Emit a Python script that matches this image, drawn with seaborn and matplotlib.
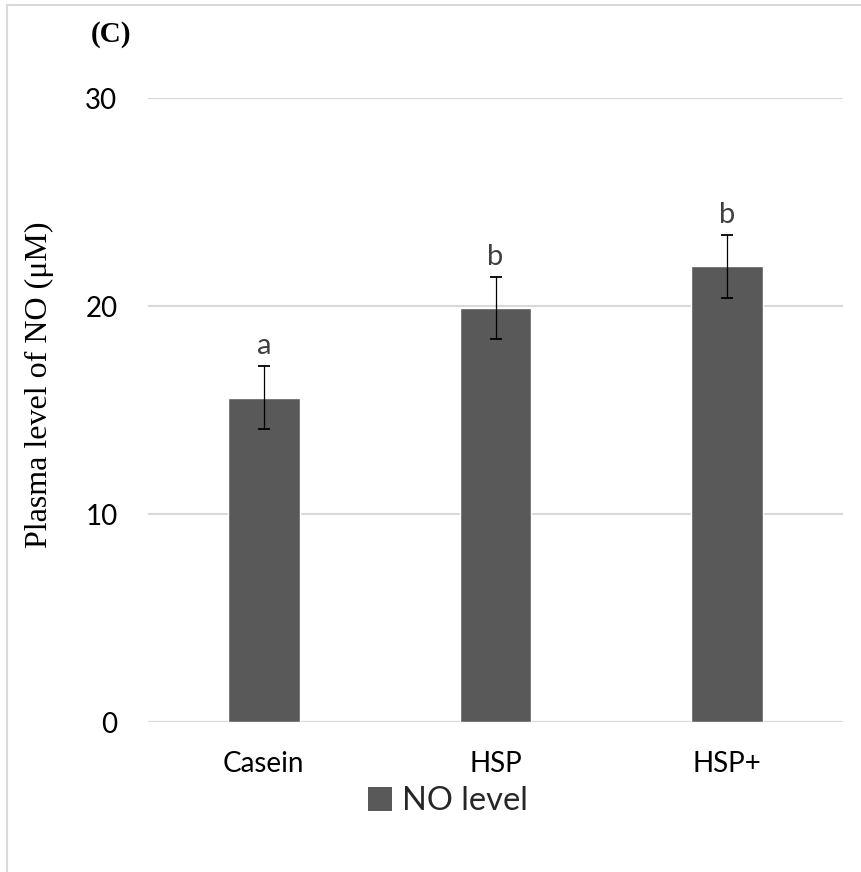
import matplotlib
matplotlib.use("Agg")
import matplotlib.pyplot as plt
import seaborn as sns
import pandas as pd
from matplotlib.lines import Line2D
from matplotlib.patches import Patch

# Plasma NO measurements per diet group
groups = ["Casein", "HSP", "HSP+"]
no_mean = [15.6, 19.9, 21.9]
no_err = [1.5, 1.5, 1.5]
sig_letters = ["a", "b", "b"]
y_ticks = [0, 10, 20, 30]

sns.set_theme(style="white")
plt.rcParams["font.family"] = ["Lato", "DejaVu Sans"]

df = pd.DataFrame({"group": groups, "no": no_mean})

fig = plt.figure(figsize=(8.61, 8.72), dpi=100)
ax = fig.add_axes([0.1719, 0.172, 0.8072, 0.7156])

bar_color = "#595959"
sns.barplot(data=df, x="group", y="no", color=bar_color, width=0.31,
            saturation=1, errorbar=None, ax=ax, zorder=3)

ax.errorbar(groups, no_mean, yerr=no_err, fmt="none", ecolor="black",
            elinewidth=0.9, capsize=4.3, capthick=1.3, zorder=4)

for g, m, e, s in zip(groups, no_mean, no_err, sig_letters):
    ax.annotate(s, (g, m + e), xytext=(0, 5), textcoords="offset points",
                ha="center", va="bottom", fontsize=21, color="#404040")

ax.set_ylim(0, 30)
ax.set_xlim(-0.5, 2.5)
ax.set_yticks(y_ticks)
ax.yaxis.grid(True, color="#d9d9d9", linewidth=1.5, zorder=0)
ax.xaxis.grid(False)
for sp in ax.spines.values():
    sp.set_visible(False)
ax.axhline(0, color="#d9d9d9", linewidth=1.5, zorder=2)
ax.tick_params(axis="y", length=0, pad=22, labelsize=20, labelcolor="black")
ax.tick_params(axis="x", length=0, pad=21, labelsize=20, labelcolor="black")
ax.set_xlabel("")
ax.set_ylabel("Plasma level of NO (μM)", family=["Liberation Serif", "DejaVu Serif"],
              fontsize=23, color="black")
ax.yaxis.set_label_coords(-0.135, 0.54)

fig.legend(handles=[Patch(facecolor=bar_color, edgecolor="none", label="NO level")],
           loc="center", bbox_to_anchor=(0.52, 0.081), frameon=False,
           fontsize=23.5, handlelength=0.75, handleheight=0.75, handletextpad=0.3)

fig.text(0.129, 0.961, "(C)", family=["Liberation Serif", "DejaVu Serif"],
         fontweight="bold", fontsize=21, ha="center", va="center", color="black")

# Thin frame along the left and top edges of the figure
fx = 7 / 861
fy = 1 - 5 / 872
fig.add_artist(Line2D([fx, fx], [0, fy], transform=fig.transFigure, color="#d9d9d9", linewidth=1.5))
fig.add_artist(Line2D([fx, 1], [fy, fy], transform=fig.transFigure, color="#d9d9d9", linewidth=1.5))

fig.savefig("out.png", dpi=100, facecolor="white")
